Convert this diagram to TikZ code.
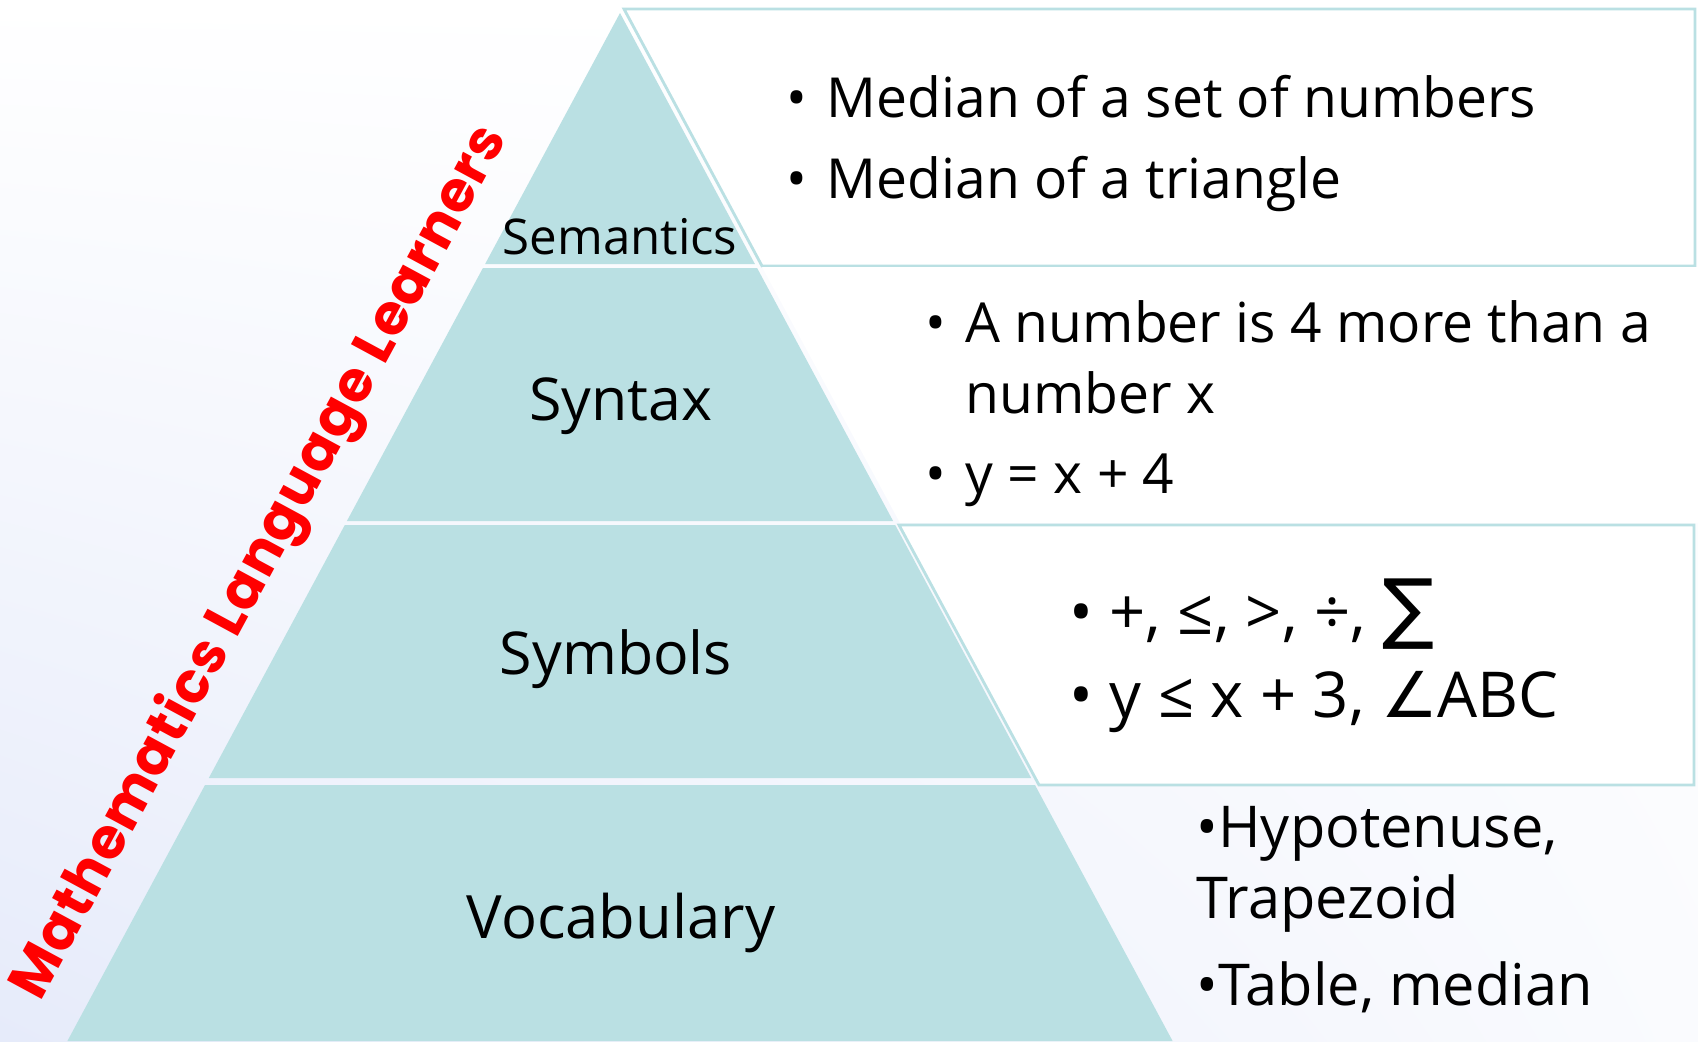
\documentclass[tikz,border=0pt]{standalone}
\usepackage{fontspec}
\setmainfont{Open Sans}
\newfontfamily\redfont[LetterSpace=2]{Poppins}
\newfontfamily\symfont{DejaVu Sans}
\usetikzlibrary{calc,shadings}

\definecolor{pyrteal}{HTML}{BAE0E3}
\definecolor{bglav}{HTML}{E6EBFA}
\definecolor{mathred}{HTML}{FF0000}

\tikzset{
  band/.style={fill=pyrteal},
  infobox/.style={fill=white, draw=pyrteal, line width=0.8pt},
  level/.style={anchor=base, font=\fontsize{16.8}{20}\selectfont},
  item/.style={anchor=base west, inner sep=0pt, font=\fontsize{15.7}{19}\selectfont},
}
\newcommand{\blt}{\llap{\makebox[0.4cm][l]{•}}}

\begin{document}
\begin{tikzpicture}[x=0.01cm, y=-0.01cm]
  \useasboundingbox (0,0) rectangle (1698,1041);
  % background
  \shade[upper left=white, upper right=white, lower left=bglav, lower right=bglav!20] (0,0) rectangle (1698,1041);

  % boxes on the right
  \draw[infobox] (624,9) -- (1695,9) -- (1695,266) -- (762,266) -- cycle;
  \fill[white] (762,267) -- (1698,267) -- (1698,523) -- (900,523) -- cycle;
  \draw[infobox] (899,525) -- (1694,525) -- (1694,785) -- (1039,785) -- cycle;

  % pyramid bands
  \fill[band] (620,13) -- (754.9,264) -- (485.1,264) -- cycle;
  \fill[band] (482.9,268) -- (757.1,268) -- (893.1,521) -- (346.9,521) -- cycle;
  \fill[band] (344.8,525) -- (895.2,525) -- (1031.2,778) -- (208.8,778) -- cycle;
  \fill[band] (205,785) -- (1035,785) -- (1172.6,1041) -- (67.4,1041) -- cycle;

  % level names
  \node[level, font=\fontsize{14}{17}\selectfont] (semantics) at (620,254.5) {Semantics};
  \node[level] (syntax) at (621,420) {Syntax};
  \node[level] (symbols) at (616,674) {Symbols};
  \node[level, font=\fontsize{17}{20}\selectfont] (vocabulary) at (621,938) {Vocabulary};

  % examples
  \node[item] (sem1) at (826,117) {\blt Median of a set of numbers};
  \node[item] (sem2) at (826,198) {\blt Median of a triangle};

  \node[item] (syn1) at (965,342) {\blt A number is 4 more than a};
  \node[item] (syn2) at (965,413) {number x};
  \node[item] (syn3) at (965,493) {\blt y = x + 4};

  \node[item, font=\fontsize{18}{21}\selectfont] (sym1) at (1109,634) {\blt +, ≤, >, ÷, {\symfont\fontsize{22}{22}\selectfont ∑}};
  \node[item, font=\fontsize{18}{21}\selectfont] (sym2) at (1109,717) {\blt y ≤ x + 3, {\symfont ∠}ABC};

  \node[item, font=\fontsize{16.4}{19}\selectfont] (voc1) at (1196,847) {•Hypotenuse,};
  \node[item, font=\fontsize{16.4}{19}\selectfont] (voc2) at (1196,918) {Trapezoid};
  \node[item, font=\fontsize{16.4}{19}\selectfont] (voc3) at (1196,1005) {•Table, median};

  % side title
  \node[rotate=61.6, text=mathred, font=\redfont\bfseries\fontsize{16}{19}\selectfont] (learners) at (261,563) {Mathematics Language Learners};
\end{tikzpicture}
\end{document}
